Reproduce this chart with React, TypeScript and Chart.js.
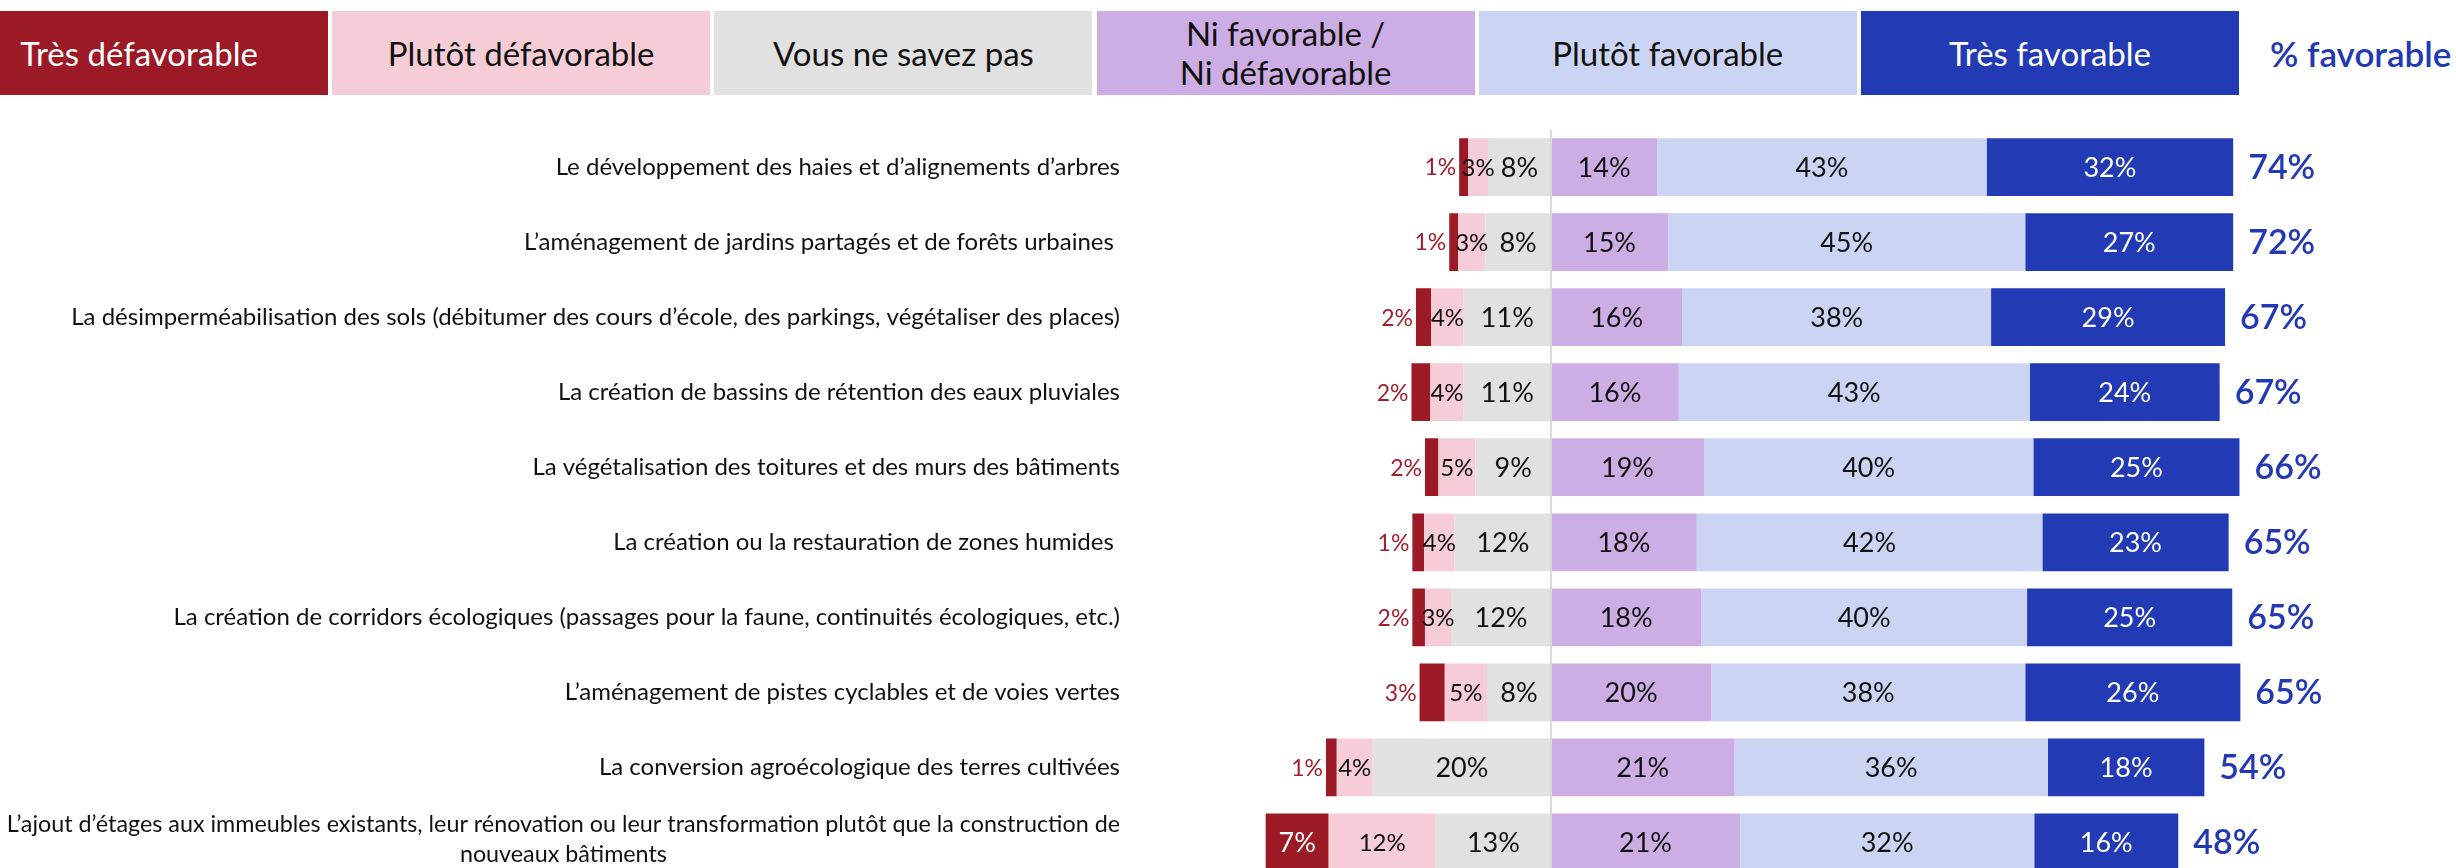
import React, { useEffect, useRef } from "react";
import { Chart, registerables } from "chart.js";

Chart.register(...registerables);

const FONT = "Lato, 'Open Sans', sans-serif";

// Category labels (one entry per line of the label)
const categories: string[][] = [
  ["Le développement des haies et d’alignements d’arbres"],
  ["L’aménagement de jardins partagés et de forêts urbaines "],
  ["La désimperméabilisation des sols (débitumer des cours d’école, des parkings, végétaliser des places)"],
  ["La création de bassins de rétention des eaux pluviales"],
  ["La végétalisation des toitures et des murs des bâtiments"],
  ["La création ou la restauration de zones humides "],
  ["La création de corridors écologiques (passages pour la faune, continuités écologiques, etc.)"],
  ["L’aménagement de pistes cyclables et de voies vertes"],
  ["La conversion agroécologique des terres cultivées"],
  [
    "L’ajout d’étages aux immeubles existants, leur rénovation ou leur transformation plutôt que la construction de",
    "nouveaux bâtiments",
  ],
];

// Printed percentages (data labels)
const pctTresDefavorable = [1, 1, 2, 2, 2, 1, 2, 3, 1, 7];
const pctPlutotDefavorable = [3, 3, 4, 4, 5, 4, 3, 5, 4, 12];
const pctNeSaitPas = [8, 8, 11, 11, 9, 12, 12, 8, 20, 13];
const pctNiNi = [14, 15, 16, 16, 19, 18, 18, 20, 21, 21];
const pctPlutotFavorable = [43, 45, 38, 43, 40, 42, 40, 38, 36, 32];
const pctTresFavorable = [32, 27, 29, 24, 25, 23, 25, 26, 18, 16];
const pctFavorable = [74, 72, 67, 67, 66, 65, 65, 65, 54, 48];

// Bar lengths as drawn in the picture (axis units)
const barTresDefavorable = [1.0, 1.0, 1.7, 2.1, 1.5, 1.3, 1.4, 2.8, 1.2, 7.0];
const barPlutotDefavorable = [2.2, 3.0, 3.6, 3.7, 4.1, 3.4, 2.9, 4.7, 4.0, 11.9];
const barNeSaitPas = [7.0, 7.3, 9.7, 9.7, 8.4, 10.7, 11.1, 7.1, 19.8, 12.8];
const barNiNi = [11.8, 13.0, 14.6, 14.2, 17.0, 16.2, 16.7, 17.8, 20.4, 21.0];
const barPlutotFavorable = [36.6, 39.7, 34.3, 39.0, 36.6, 38.4, 36.2, 34.9, 34.8, 32.7];
const barTresFavorable = [27.4, 23.1, 26.0, 21.1, 22.9, 20.7, 22.8, 23.9, 17.4, 16.0];

const legendNames = [
  ["Très défavorable"],
  ["Plutôt défavorable"],
  ["Vous ne savez pas"],
  ["Ni favorable /", "Ni défavorable"],
  ["Plutôt favorable"],
  ["Très favorable"],
];
const legendColors = ["#9c1926", "#f6cdd7", "#e1e1e1", "#cdaee4", "#ccd4f3", "#223bb4"];
const legendTextColors = ["#ffffff", "#111111", "#111111", "#111111", "#111111", "#ffffff"];
const favColor = "#2338b3";

const X_MIN = -172.33;
const X_MAX = 100.56;

export default function App() {
  const canvasRef = useRef<HTMLCanvasElement | null>(null);

  useEffect(() => {
    const canvas = canvasRef.current;
    if (!canvas) return;

    const labelsPlugin = {
      id: "customLabels",
      afterDatasetsDraw(chart: any) {
        const ctx = chart.ctx as CanvasRenderingContext2D;
        const xScale = chart.scales.x;
        const yScale = chart.scales.y;
        const area = chart.chartArea;
        ctx.save();

        // zero line
        const x0 = xScale.getPixelForValue(0);
        ctx.strokeStyle = "#d9d9d9";
        ctx.lineWidth = 2;
        ctx.beginPath();
        ctx.moveTo(x0, area.top);
        ctx.lineTo(x0, area.bottom);
        ctx.stroke();

        ctx.textBaseline = "middle";

        // data labels
        chart.data.datasets.forEach((ds: any, di: number) => {
          const meta = chart.getDatasetMeta(di);
          meta.data.forEach((el: any, j: number) => {
            const txt = ds.pct[j] + "%";
            const left = Math.min(el.x, el.base);
            const right = Math.max(el.x, el.base);
            const w = right - left;
            const cx = (left + right) / 2;
            if (ds.key === "red") {
              if (w < 40) {
                ctx.font = `23px ${FONT}`;
                ctx.fillStyle = "#a31f2e";
                ctx.textAlign = "right";
                ctx.fillText(txt, left - 3, el.y + 1);
              } else {
                ctx.font = `27px ${FONT}`;
                ctx.fillStyle = "#ffffff";
                ctx.textAlign = "center";
                ctx.fillText(txt, cx, el.y + 1);
              }
            } else {
              ctx.font = ds.key === "pink" ? `24px ${FONT}` : `27px ${FONT}`;
              ctx.fillStyle = ds.key === "dblue" ? "#ffffff" : "#111111";
              ctx.textAlign = "center";
              ctx.fillText(txt, cx, el.y + 1);
            }
            if (ds.key === "dblue") {
              ctx.font = `600 34px ${FONT}`;
              ctx.fillStyle = favColor;
              ctx.textAlign = "left";
              ctx.fillText(pctFavorable[j] + "%", right + 15, el.y + 1);
            }
          });
        });

        // category labels
        const LABEL_RIGHT = 1120;
        const LABEL_AVAIL = 1114;
        const LINE_H = 30;
        ctx.fillStyle = "#111111";
        categories.forEach((lines, j) => {
          const y = yScale.getPixelForValue(j);
          let size = 24;
          ctx.font = `${size}px ${FONT}`;
          let bw = Math.max(...lines.map((l) => ctx.measureText(l).width));
          if (bw > LABEL_AVAIL) {
            size = (size * LABEL_AVAIL) / bw;
            ctx.font = `${size}px ${FONT}`;
            bw = Math.max(...lines.map((l) => ctx.measureText(l).width));
          }
          if (lines.length === 1) {
            ctx.textAlign = "right";
            ctx.fillText(lines[0], LABEL_RIGHT, y);
          } else {
            const cx = LABEL_RIGHT - bw / 2;
            ctx.textAlign = "center";
            const y0 = y - ((lines.length - 1) * LINE_H) / 2 - 3;
            lines.forEach((l, k) => ctx.fillText(l, cx, y0 + k * LINE_H));
          }
        });
        ctx.restore();
      },
    };

    const chart = new Chart(canvas, {
      type: "bar",
      data: {
        labels: categories.map((c) => c.join(" ")),
        datasets: [
          { key: "gray", pct: pctNeSaitPas, label: "Vous ne savez pas", data: barNeSaitPas.map((v) => -v), backgroundColor: legendColors[2] },
          { key: "pink", pct: pctPlutotDefavorable, label: "Plutôt défavorable", data: barPlutotDefavorable.map((v) => -v), backgroundColor: legendColors[1] },
          { key: "red", pct: pctTresDefavorable, label: "Très défavorable", data: barTresDefavorable.map((v) => -v), backgroundColor: legendColors[0] },
          { key: "purple", pct: pctNiNi, label: "Ni favorable / Ni défavorable", data: barNiNi, backgroundColor: legendColors[3] },
          { key: "lblue", pct: pctPlutotFavorable, label: "Plutôt favorable", data: barPlutotFavorable, backgroundColor: legendColors[4] },
          { key: "dblue", pct: pctTresFavorable, label: "Très favorable", data: barTresFavorable, backgroundColor: legendColors[5] },
        ] as any,
      },
      options: {
        indexAxis: "y",
        responsive: false,
        maintainAspectRatio: false,
        animation: false,
        devicePixelRatio: 1,
        layout: { padding: { top: 129.5, left: 0, right: 0, bottom: 0 } },
        datasets: { bar: { barPercentage: 0.77, categoryPercentage: 1, borderWidth: 0 } },
        scales: {
          x: { type: "linear", stacked: true, min: X_MIN, max: X_MAX, display: false },
          y: { type: "category", stacked: true, display: false },
        },
        plugins: { legend: { display: false }, tooltip: { enabled: false } },
      } as any,
      plugins: [labelsPlugin],
    });

    return () => chart.destroy();
  }, []);

  return (
    <div
      style={{
        position: "fixed",
        left: 0,
        top: 0,
        width: 2456,
        height: 868,
        overflow: "hidden",
        background: "#ffffff",
        fontFamily: FONT,
      }}
    >
      {legendNames.map((lines, i) => (
        <div
          key={i}
          style={{
            position: "absolute",
            left: -50 + i * 382.2,
            top: 11,
            width: 378,
            height: 84,
            background: legendColors[i],
            color: legendTextColors[i],
            display: "flex",
            flexDirection: "column",
            alignItems: "center",
            justifyContent: "center",
            fontSize: 33,
            lineHeight: "39px",
            textAlign: "center",
            whiteSpace: "nowrap",
          }}
        >
          {lines.map((l, k) => (
            <div key={k}>{l}</div>
          ))}
        </div>
      ))}
      <div
        style={{
          position: "absolute",
          left: 2270,
          top: 11,
          height: 84,
          display: "flex",
          alignItems: "center",
          color: favColor,
          fontSize: 35,
          fontWeight: 600,
          whiteSpace: "nowrap",
        }}
      >
        % favorable
      </div>
      <canvas
        ref={canvasRef}
        width={2456}
        height={880}
        style={{ position: "absolute", left: 0, top: 0, width: 2456, height: 880 }}
      />
    </div>
  );
}
